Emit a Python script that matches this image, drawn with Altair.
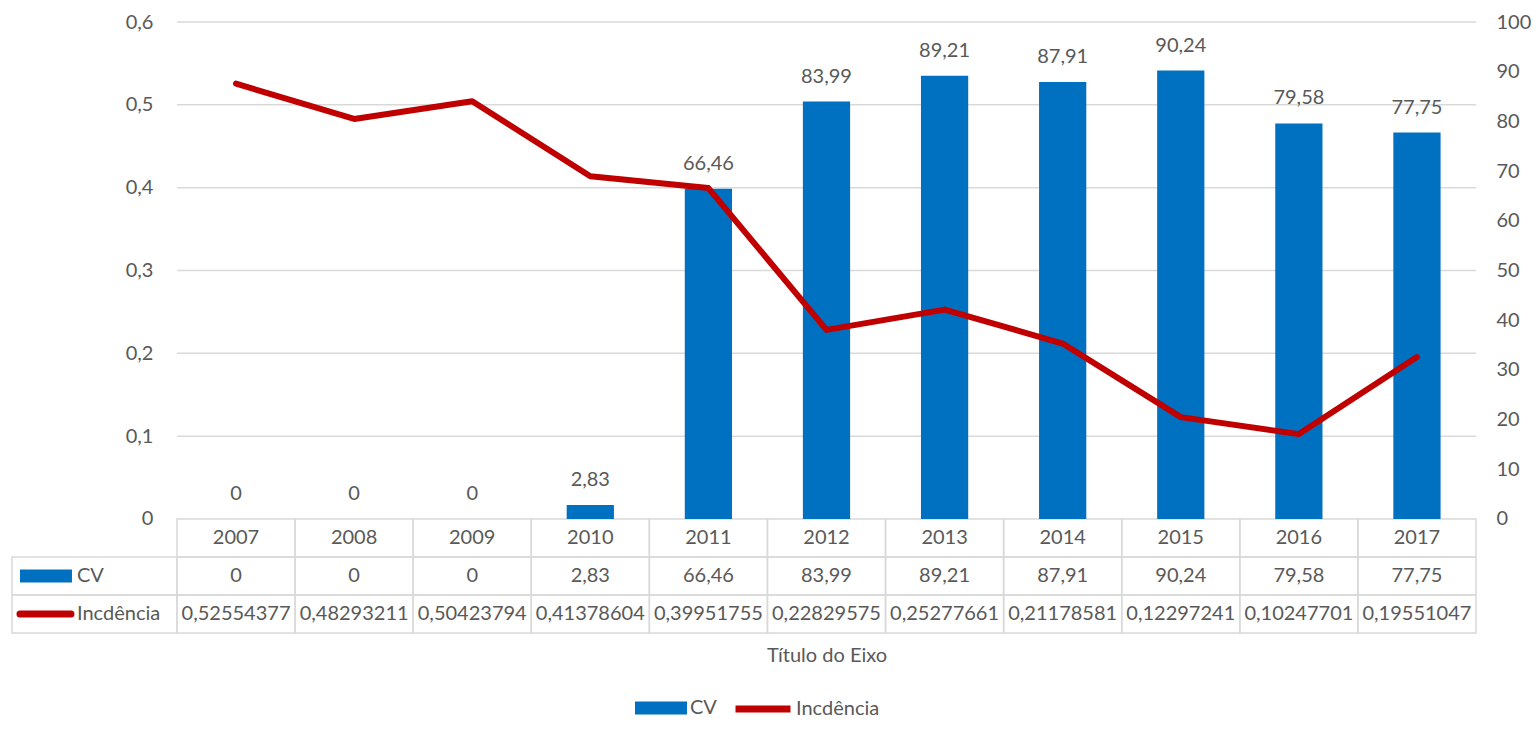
import altair as alt
import pandas as pd

# ---------------- data ----------------
years = ["2007", "2008", "2009", "2010", "2011", "2012", "2013", "2014", "2015", "2016", "2017"]
cv = [0, 0, 0, 2.83, 66.46, 83.99, 89.21, 87.91, 90.24, 79.58, 77.75]
inc = [0.52554377, 0.48293211, 0.50423794, 0.41378604, 0.39951755, 0.22829575,
       0.25277661, 0.21178581, 0.12297241, 0.10247701, 0.19551047]
left_ticks = [0, 0.1, 0.2, 0.3, 0.4, 0.5, 0.6]
right_ticks = [0, 10, 20, 30, 40, 50, 60, 70, 80, 90, 100]
row_names = ["", "CV", "Incdência"]
series_names = ["CV", "Incdência"]

# ---------------- layout constants ----------------
FONT = "Lato"
TXT = "#595959"
GRID = "#d9d9d9"
BLUE = "#0070C0"
RED = "#C00000"
N = len(years)
HEAD = 1.397            # width of the table header column, in category units
W = 1464                # plot width (header column + categories)
H = 611                 # plot height (chart area + table)
PX = W / (N + HEAD)     # pixels per category
HEAD_PX = HEAD * PX
LEFT_MAX = 0.6
RIGHT_MAX = 100
ROW = 0.045877          # table row height in left-axis units
LEFT_MIN = -3 * ROW
RIGHT_MIN = LEFT_MIN * RIGHT_MAX / LEFT_MAX

def comma(s):
    return s.replace(".", ",")

main = pd.DataFrame({"i": range(N), "year": years, "cv": cv, "inc": inc})
main["cv_lab"] = [comma(f"{v:g}") for v in cv]

cells = []
texts = []
for r in range(3):
    for i in range(N):
        cells.append({"x0": i, "x1": i + 1, "r": r})
        lab = years[i] if r == 0 else (comma(f"{cv[i]:g}") if r == 1 else comma(f"{inc[i]:.8f}"))
        texts.append({"i": i, "r": r, "label": lab})
    if r > 0:
        cells.append({"x0": -HEAD, "x1": 0, "r": r})
cells = pd.DataFrame(cells)
texts = pd.DataFrame(texts)
heads = pd.DataFrame({"r": [1, 2], "label": row_names[1:], "series": series_names})
grid = pd.DataFrame({"t": [t for t in left_ticks if t > 0]})

yl = alt.Scale(domain=[LEFT_MIN, LEFT_MAX], nice=False, zero=False)
yr = alt.Scale(domain=[RIGHT_MIN, RIGHT_MAX], nice=False, zero=False)
xs = alt.Scale(domain=[-HEAD, N], nice=False, zero=False)

# ---------------- left-scale layers (behind bars) ----------------
grid_l = alt.Chart(grid).mark_rule(color=GRID, strokeWidth=1.5).encode(
    x=alt.X("x0:Q", scale=xs,
            axis=alt.Axis(title="Título do Eixo", labels=False, ticks=False, domain=False, grid=False,
                          titleX=(HEAD_PX + W) / 2, titleY=22, titleBaseline="middle",
                          titleFont=FONT, titleFontSize=20, titleFontWeight="normal", titleColor=TXT)),
    x2="x1:Q",
    y=alt.Y("t:Q", scale=yl,
            axis=alt.Axis(orient="left", values=left_ticks, offset=-HEAD_PX, labelPadding=24,
                          ticks=False, domain=False, grid=False, title=None,
                          labelExpr="datum.value == 0 ? '0' : replace(format(datum.value, '.1f'), '.', ',')")),
).transform_calculate(x0="0", x1=str(N))

cell_l = alt.Chart(cells).mark_rect(fillOpacity=0, stroke=GRID, strokeWidth=1.5).encode(
    x=alt.X("x0:Q", scale=xs, axis=None),
    x2="x1:Q",
    y=alt.Y("y0:Q", scale=yl, axis=None),
    y2="y1:Q",
).transform_calculate(y0=f"-datum.r*{ROW}", y1=f"-(datum.r+1)*{ROW}")

text_l = alt.Chart(texts).mark_text(font=FONT, fontSize=20, color=TXT, baseline="middle").encode(
    x=alt.X("xc:Q", scale=xs, axis=None),
    y=alt.Y("yc:Q", scale=yl, axis=None),
    text="label:N",
).transform_calculate(xc="datum.i+0.5", yc=f"-(datum.r+0.5)*{ROW}")

head_l = alt.Chart(heads).mark_text(font=FONT, fontSize=20, color=TXT, align="left", baseline="middle").encode(
    x=alt.X("xh:Q", scale=xs, axis=None),
    y=alt.Y("yc:Q", scale=yl, axis=None),
    text="label:N",
).transform_calculate(xh=str(-100 / PX), yc=f"-(datum.r+0.5)*{ROW}")

sym_cv = alt.Chart(heads[heads.r == 1]).mark_rule(color=BLUE, strokeWidth=13, strokeCap="butt").encode(
    x=alt.X("xa:Q", scale=xs, axis=None),
    x2="xb:Q",
    y=alt.Y("yc:Q", scale=yl, axis=None),
).transform_calculate(xa=str(-157 / PX), xb=str(-105 / PX), yc=f"-(datum.r+0.5)*{ROW}")

sym_inc = alt.Chart(heads[heads.r == 2]).mark_rule(color=RED, strokeWidth=7, strokeCap="round").encode(
    x=alt.X("xa:Q", scale=xs, axis=None),
    x2="xb:Q",
    y=alt.Y("yc:Q", scale=yl, axis=None),
).transform_calculate(xa=str(-157 / PX), xb=str(-106 / PX), yc=f"-(datum.r+0.5)*{ROW}")

# ---------------- right-scale layers (bars) ----------------
bars_r = alt.Chart(main).mark_bar().encode(
    x=alt.X("xb0:Q", scale=xs, axis=None),
    x2="xb1:Q",
    y=alt.Y("cv:Q", scale=yr,
            axis=alt.Axis(orient="right", values=right_ticks, labelPadding=20, ticks=False,
                          domain=False, grid=False, title=None)),
    y2=alt.Y2(datum=0),
    fill=alt.Fill("series:N", scale=alt.Scale(domain=["CV"], range=[BLUE]),
                  legend=alt.Legend(orient="none", legendX=622, legendY=659, title=None,
                                    symbolType="M-1,-0.25H1V0.25H-1Z", symbolSize=2704,
                                    labelFont=FONT, labelFontSize=20, labelColor=TXT, labelOffset=2)),
).transform_calculate(xb0="datum.i+0.3", xb1="datum.i+0.7", series="'CV'")

barlab_r = alt.Chart(main).mark_text(font=FONT, fontSize=20, color=TXT, baseline="middle", dy=-25).encode(
    x=alt.X("xc:Q", scale=xs, axis=None),
    y=alt.Y("cv:Q", scale=yr, axis=None),
    text="cv_lab:N",
).transform_calculate(xc="datum.i+0.5")

# ---------------- left-scale line (in front of bars) ----------------
line_l = alt.Chart(main).mark_line(strokeWidth=6, strokeCap="round", strokeJoin="round").encode(
    x=alt.X("xc:Q", scale=xs, axis=None),
    y=alt.Y("inc:Q", scale=yl, axis=None),
    stroke=alt.Stroke("series:N", scale=alt.Scale(domain=["Incdência"], range=[RED]),
                      legend=alt.Legend(orient="none", legendX=720, legendY=656, title=None,
                                        symbolType="M-1,0H1", symbolSize=3025, symbolStrokeWidth=7,
                                        labelFont=FONT, labelFontSize=20, labelColor=TXT, labelOffset=2)),
).transform_calculate(xc="datum.i+0.5", series="'Incdência'")

chart = alt.layer(
    grid_l, cell_l, text_l, head_l, sym_cv, sym_inc, bars_r, barlab_r, line_l
).resolve_scale(x="independent", y="independent").properties(
    width=W, height=H,
    autosize=alt.AutoSizeParams(type="none"),
    padding={"left": 4, "top": 14, "right": 56, "bottom": 88},
    background="white",
).configure_view(stroke=None).configure_axis(
    labelFont=FONT, labelFontSize=20, labelColor=TXT,
)

chart.save("out.html", embed_options={"renderer": "svg", "actions": False})
